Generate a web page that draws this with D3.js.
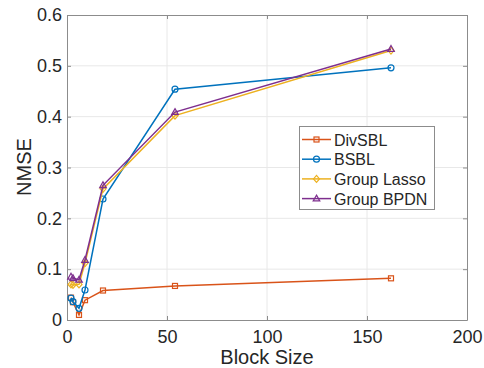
<!DOCTYPE html>
<html>
<head>
<meta charset="utf-8">
<script src="https://cdn.jsdelivr.net/npm/d3@7"></script>
<style>
  body { margin: 0; background: #fff; }
  svg text { font-family: "Liberation Sans", Arial, Helvetica, sans-serif; fill: #262626; }
</style>
</head>
<body>
<svg id="chart" width="484" height="368"></svg>
<script>
// block sizes on the x axis
const blockSizes = [2, 3, 6, 9, 18, 54, 162];

// NMSE per method
const divsbl     = [0.044, 0.035, 0.010, 0.039, 0.058, 0.067, 0.082];
const bsbl       = [0.043, 0.036, 0.023, 0.059, 0.238, 0.454, 0.496];
const groupLasso = [0.070, 0.069, 0.070, 0.112, 0.258, 0.402, 0.530];
const groupBpdn  = [0.085, 0.082, 0.079, 0.118, 0.265, 0.409, 0.533];

const xTicks = [0, 50, 100, 150, 200];
const yTicks = [0, 0.1, 0.2, 0.3, 0.4, 0.5, 0.6];

const series = [
  { name: "DivSBL", values: divsbl, color: "#D95319", marker: "square" },
  { name: "BSBL", values: bsbl, color: "#0072BD", marker: "circle" },
  { name: "Group Lasso", values: groupLasso, color: "#EDB120", marker: "diamond" },
  { name: "Group BPDN", values: groupBpdn, color: "#7E2F8E", marker: "triangle" }
];

const svg = d3.select("#chart");
const plotL = 67, plotR = 467, plotT = 15, plotB = 320;

const x = d3.scaleLinear().domain([0, 200]).range([plotL, plotR]);
const y = d3.scaleLinear().domain([0, 0.6]).range([plotB, plotT]);

// grid
const grid = svg.append("g");
grid.selectAll(".gx").data(xTicks.slice(1, -1)).enter().append("line")
  .attr("x1", d => x(d)).attr("x2", d => x(d))
  .attr("y1", plotT).attr("y2", plotB)
  .attr("stroke", "#e8e8e8").attr("stroke-width", 1);
grid.selectAll(".gy").data(yTicks.slice(1, -1)).enter().append("line")
  .attr("x1", plotL).attr("x2", plotR)
  .attr("y1", d => y(d)).attr("y2", d => y(d))
  .attr("stroke", "#e8e8e8").attr("stroke-width", 1);

// axes (ticks inward, box on)
const axisColor = "#8c8c8c";
const tickLen = 4;

const xAxis = svg.append("g").attr("transform", `translate(0,${plotB})`)
  .call(d3.axisBottom(x).tickValues(xTicks).tickSizeInner(-tickLen).tickSizeOuter(0).tickPadding(10));
const yAxis = svg.append("g").attr("transform", `translate(${plotL},0)`)
  .call(d3.axisLeft(y).tickValues(yTicks).tickSizeInner(-tickLen).tickSizeOuter(0).tickPadding(5)
    .tickFormat(d => d === 0 ? "0" : d3.format(".1f")(d)));
const xTop = svg.append("g").attr("transform", `translate(0,${plotT})`)
  .call(d3.axisTop(x).tickValues(xTicks).tickSizeInner(-tickLen).tickSizeOuter(0).tickFormat(""));
const yRight = svg.append("g").attr("transform", `translate(${plotR},0)`)
  .call(d3.axisRight(y).tickValues(yTicks).tickSizeInner(-tickLen).tickSizeOuter(0).tickFormat(""));

[xAxis, yAxis, xTop, yRight].forEach(a => {
  a.select(".domain").attr("stroke", axisColor).attr("stroke-width", 1);
  a.selectAll(".tick line").attr("stroke", axisColor);
  a.selectAll(".tick text").attr("font-size", 18).attr("fill", "#262626");
});

// axis labels
svg.append("text")
  .attr("x", (plotL + plotR) / 2).attr("y", 364)
  .attr("text-anchor", "middle").attr("font-size", 20)
  .text("Block Size");
svg.append("text")
  .attr("transform", `translate(30.5,167) rotate(-90)`)
  .attr("text-anchor", "middle").attr("font-size", 20)
  .text("NMSE");

function drawMarker(g, type, color, cx, cy) {
  if (type === "square") {
    g.append("rect").attr("x", cx - 2.5).attr("y", cy - 2.5).attr("width", 5).attr("height", 5)
      .attr("fill", "none").attr("stroke", color).attr("stroke-width", 1.2);
  } else if (type === "circle") {
    g.append("circle").attr("cx", cx).attr("cy", cy).attr("r", 3)
      .attr("fill", "none").attr("stroke", color).attr("stroke-width", 1.2);
  } else if (type === "diamond") {
    g.append("path").attr("d", `M${cx},${cy - 3.5}L${cx + 3},${cy}L${cx},${cy + 3.5}L${cx - 3},${cy}Z`)
      .attr("fill", "none").attr("stroke", color).attr("stroke-width", 1.2);
  } else {
    g.append("path").attr("d", `M${cx},${cy - 3.5}L${cx + 3.3},${cy + 2.3}L${cx - 3.3},${cy + 2.3}Z`)
      .attr("fill", "none").attr("stroke", color).attr("stroke-width", 1.2);
  }
}

const line = d3.line().x(d => x(d[0])).y(d => y(d[1]));
const plot = svg.append("g");
series.forEach(s => {
  const pts = blockSizes.map((b, i) => [b, s.values[i]]);
  const g = plot.append("g");
  g.append("path").datum(pts).attr("d", line)
    .attr("fill", "none").attr("stroke", s.color).attr("stroke-width", 1.5);
  pts.forEach(p => drawMarker(g, s.marker, s.color, x(p[0]), y(p[1])));
});

// legend
const lg = svg.append("g");
lg.append("rect").attr("x", 299.5).attr("y", 126.5).attr("width", 135).attr("height", 83)
  .attr("fill", "#fff").attr("stroke", "#8c8c8c").attr("stroke-width", 1);
series.forEach((s, i) => {
  const cy = 139.5 + i * 19.7;
  lg.append("line").attr("x1", 302).attr("x2", 331).attr("y1", cy).attr("y2", cy)
    .attr("stroke", s.color).attr("stroke-width", 1.5);
  drawMarker(lg, s.marker, s.color, 316.5, cy);
  lg.append("text").attr("x", 334).attr("y", cy + 6).attr("font-size", 16).text(s.name);
});
</script>
</body>
</html>
